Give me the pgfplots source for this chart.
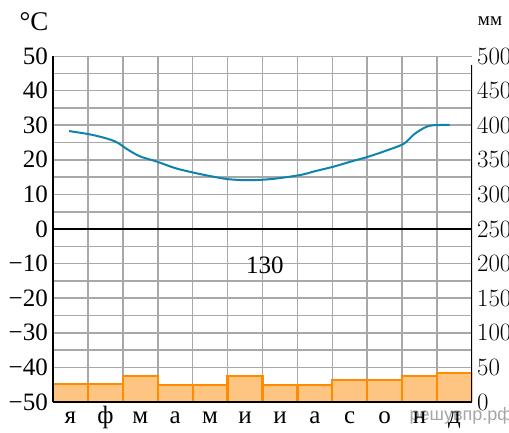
\documentclass[border=0pt]{standalone}
\usepackage{fontspec}
\setmainfont{Liberation Serif}
\newfontfamily\wmfont{Liberation Sans}
\usepackage{pgfplots}
\pgfplotsset{compat=1.18}
\definecolor{tcurve}{HTML}{0C84AD}
\definecolor{barfill}{HTML}{FDC482}
\definecolor{baredge}{HTML}{FF8C00}
\definecolor{gridc}{HTML}{A8A8A8}
\pgfplotsset{
    climbox/.style={
        scale only axis,
        width=419pt, height=346pt,
        xmin=0, xmax=12,
        major tick length=0pt, minor tick length=0pt,
        tick label style={font=\fontsize{25}{28}\selectfont},
    },
}
\begin{document}
\begin{tikzpicture}
\useasboundingbox (-53pt,-30pt) rectangle (456pt,402pt);
% watermark
\node[font=\wmfont\fontsize{18}{20}\selectfont, text=black!35] at (408pt,-14pt) {решувпр.рф};
% right axis: precipitation, grid
\begin{axis}[
    climbox,
    ymin=0, ymax=500,
    axis x line*=bottom, axis y line*=right,
    axis line style={draw=none},
    xtick=\empty,
    ytick={0,50,...,500},
    yticklabel style={inner sep=0pt, anchor=west, xshift=5pt},
]
\pgfplotsinvokeforeach{1,...,11}{
    \draw[gridc, line width=1.6pt] (axis cs:#1,0) -- (axis cs:#1,500);
}
\pgfplotsinvokeforeach{25,50,...,500}{
    \draw[gridc, line width=1.6pt] (axis cs:0,#1) -- (axis cs:12,#1);
}
\addplot[ybar, bar width=34.92pt, bar shift=0pt, fill=barfill, draw=baredge, line width=2.2pt] coordinates {
    (0.5,26) (1.5,26) (2.5,37) (3.5,24) (4.5,24) (5.5,37)
    (6.5,24) (7.5,24) (8.5,32) (9.5,32) (10.5,37) (11.5,42)
};
\end{axis}
% left axis: temperature
\begin{axis}[
    climbox,
    ymin=-50, ymax=50,
    axis x line*=bottom, axis y line*=left,
    axis line style={black, line width=2.2pt},
    xtick={0.5,1.5,...,11.5},
    xticklabels={я,ф,м,а,м,и,и,а,с,о,н,д},
    ytick={-50,-40,...,50},
    yticklabels={−50,−40,−30,−20,−10,0,10,20,30,40,50},
    yticklabel style={inner sep=0pt, anchor=east, xshift=-5pt},
    xticklabel style={inner sep=0pt, anchor=north, text height=17pt, text depth=5pt, yshift=-4pt},
]
\addplot[black, line width=2pt] coordinates {(0,0) (12,0)};
\addplot[tcurve, line width=2pt, smooth] coordinates {
    (0.46,28.3) (1.03,27.4) (1.49,26.3) (1.82,25.1) (2.15,22.9) (2.49,21.0)
    (2.97,19.5) (3.5,17.6) (4.02,16.3) (4.5,15.3) (5.02,14.4) (5.64,14.1)
    (6.31,14.5) (7.08,15.6) (7.5,16.7) (8.03,18) (8.5,19.4) (9.03,20.9)
    (9.5,22.5) (10.04,24.6) (10.32,27.2) (10.52,28.6) (10.71,29.6) (10.9,30)
    (11.36,30.1)
};
\draw[black, line width=2pt] (rel axis cs:1,0) -- (rel axis cs:1,0.974);
\node[font=\fontsize{25}{28}\selectfont] at (axis cs:6.07,-10.4) {130};
\end{axis}
\node[font=\fontsize{27}{30}\selectfont] at (-19pt,380pt) {°C};
\node[font=\fontsize{19}{22}\selectfont] at (437pt,381pt) {мм};
\end{tikzpicture}
\end{document}
